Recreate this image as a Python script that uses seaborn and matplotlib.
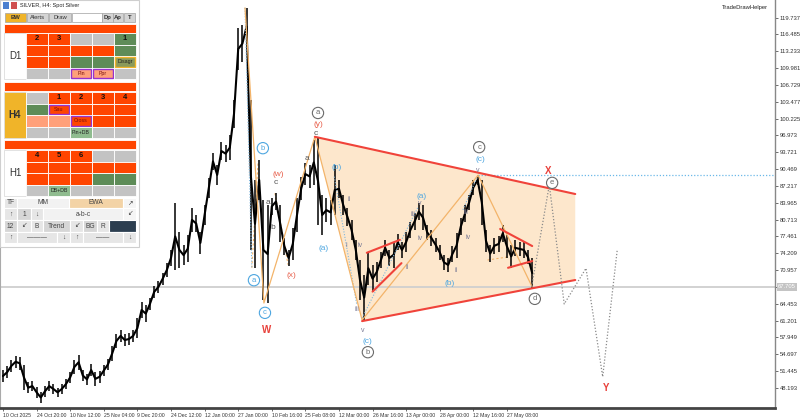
import numpy as np
import pandas as pd
import matplotlib
matplotlib.use("Agg")
import matplotlib.pyplot as plt
import matplotlib.transforms as mtransforms
from matplotlib.patches import Rectangle, Polygon
import seaborn as sns

sns.set_theme(style="white")
plt.rcParams['font.family'] = ['Liberation Sans', 'DejaVu Sans']

# ---------------- data ----------------
bar_step = 8          # H4 bars between samples
label_step = 64       # H4 bars between time labels
high = [51.7, 52.4, 53.6, 54.4, 54.2, 52.6, 49.3, 49.5, 48.4, 47.4,
        48.6, 49.5, 49.0, 48.2, 49.0, 49.9, 51.3, 53.6, 54.6, 51.7,
        50.9, 52.8, 51.3, 51.5, 52.6, 53.8, 56.3, 58.6, 59.4, 58.6,
        58.8, 59.4, 61.7, 64.8, 64.2, 65.6, 67.9, 68.9, 70.4, 72.3,
        74.8, 83.9, 78.3, 75.8, 77.7, 83.0, 81.6, 78.3, 83.5, 88.7,
        93.6, 91.3, 95.7, 95.1, 97.0, 103.8, 117.7, 118.3, 121.6, 103.8,
        88.4, 92.2, 84.5, 83.5, 84.9, 85.8, 83.5, 77.2, 74.8, 79.1,
        84.9, 88.9, 91.6, 91.3, 96.1, 96.7, 85.5, 84.9, 84.5, 91.3,
        88.4, 85.5, 83.0, 80.6, 76.8, 72.9, 70.0, 74.5, 71.9, 72.5,
        74.5, 76.8, 74.8, 76.4, 77.9, 76.4, 78.3, 80.2, 82.0, 83.9,
        83.5, 79.7, 78.7, 77.2, 75.8, 73.9, 73.3, 75.6, 78.1, 81.0,
        83.5, 85.5, 88.4, 89.3, 88.4, 78.7, 75.8, 77.2, 77.5, 79.7,
        77.7, 75.8, 76.8, 76.4, 76.4, 74.8, 73.3]
low = [49.3, 50.1, 51.3, 52.1, 51.7, 47.8, 47.2, 47.6, 46.3, 45.3,
       46.5, 47.6, 47.0, 46.5, 47.0, 48.0, 49.2, 50.9, 51.7, 49.5,
       48.8, 50.5, 48.6, 49.2, 50.5, 51.7, 53.4, 55.9, 57.1, 56.3,
       56.5, 57.1, 57.8, 61.7, 60.9, 63.3, 65.6, 66.5, 68.1, 69.6,
       71.8, 71.0, 71.4, 71.9, 72.5, 78.3, 78.3, 74.1, 79.7, 84.9,
       90.3, 87.4, 92.2, 91.8, 92.2, 98.4, 109.6, 111.1, 114.4, 74.8,
       71.4, 84.5, 65.2, 64.6, 81.6, 82.6, 76.4, 73.9, 71.8, 72.9,
       78.3, 84.5, 87.4, 86.8, 87.4, 79.7, 77.7, 80.2, 79.7, 81.6,
       84.9, 81.6, 79.5, 76.8, 72.9, 65.2, 61.3, 68.1, 66.7, 68.7,
       71.4, 73.7, 71.8, 71.4, 74.8, 73.3, 74.5, 77.2, 78.7, 80.6,
       78.7, 76.8, 75.6, 74.5, 72.9, 71.0, 70.6, 72.5, 73.3, 77.7,
       80.2, 82.6, 85.5, 87.4, 79.7, 74.5, 72.5, 74.1, 74.5, 76.4,
       73.3, 71.4, 73.7, 73.7, 73.3, 72.1, 67.5]
time_labels = ["10 Oct 2025", "24 Oct 20:00", "10 Nov 12:00", "25 Nov 04:00",
               "9 Dec 20:00", "24 Dec 12:00", "12 Jan 00:00", "27 Jan 00:00",
               "10 Feb 16:00", "25 Feb 08:00", "12 Mar 00:00", "26 Mar 16:00",
               "13 Apr 00:00", "28 Apr 00:00", "12 May 16:00", "27 May 08:00"]
price_ticks = [119.737, 116.485, 113.233, 109.981, 106.729, 103.477, 100.225,
               96.973, 93.721, 90.469, 87.217, 83.965, 80.713, 77.461, 74.209,
               70.957, 67.705, 64.453, 61.201, 57.949, 54.697, 51.445, 48.193]
current_price = 67.705
level_x = 89.3

# wave structure (bar index, price)
wave_main = [(461, 121.6), (497, 64.6), (594, 96.7), (684, 61.3), (905, 89.3), (1008, 67.7)]
triangle = [(594, 96.7), (1090, 85.65), (1090, 69.04), (684, 61.1)]
tri_upper = [(594, 96.7), (1090, 85.65)]
tri_lower = [(684, 61.1), (1090, 69.04)]
wedge1 = [[(693, 74.3), (756, 76.8)], [(704, 66.8), (759, 72.3)]]
wedge2 = [[(947, 78.9), (1008, 75.6)], [(962, 71.4), (1008, 72.7)]]
dashed_orange = [[(474, 71.4), (486, 92.0)], [(518, 85.8), (543, 72.0)],
                 [(923, 72.9), (962, 73.5)]]
dotted_blue = [[(461, 121.6), (474, 71.4)], [(631, 89.0), (674, 64.2)],
               [(684, 61.7), (790, 83.0)], [(876, 82.6), (905, 89.3)]]
projection = [(1007, 67.75), (1040.6, 87.39), (1069, 64.41), (1110.5, 71.3),
              (1142.3, 50.37), (1170, 74.84)]

circ_cyan = [("b", 495, 94.5), ("a", 478, 69.0), ("c", 499, 62.7)]
circ_gray = [("a", 600, 101.3), ("c", 907, 94.7), ("e", 1046, 87.8),
             ("d", 1013, 65.4), ("b", 695, 55.1)]
txt_red = [("(y)", 600, 99.0), ("(w)", 524, 89.5), ("(x)", 549, 70.0)]
txt_dark = [("c", 596, 97.4), ("c", 520, 87.8), ("a", 505, 84.1), ("b", 514, 79.1),
            ("a", 579, 92.6)]
txt_cyan = [("(a)", 610, 75.2), ("(b)", 636, 90.7), ("(c)", 695, 57.1),
            ("(a)", 798, 85.1), ("(b)", 851, 68.3), ("(c)", 909, 92.4)]
txt_roman = [("ii", 659, 84.5), ("i", 653, 75.8), ("iv", 680, 75.8), ("iii", 674, 63.4),
             ("v", 686, 59.2), ("ii", 770, 71.4), ("iii", 781, 81.6), ("v", 794, 83.9),
             ("iv", 794, 77.0), ("ii", 863, 70.8), ("iii", 882, 82.0), ("iv", 886, 77.2),
             ("v", 905, 90.1)]
txt_big = [("X", 1038, 90.1), ("W", 503, 59.4), ("Y", 1149, 48.2)]

# ---------------- figure ----------------
fig = plt.figure(figsize=(8, 4.2), dpi=100)
fig.patch.set_facecolor("white")
ax = fig.add_axes([0, 12 / 420, 775 / 800, 408 / 420])
ax.set_facecolor("white")

xs = np.arange(len(high)) * bar_step
hi_arr = np.array(high); lo_arr = np.array(low)
df = pd.DataFrame({"x": xs, "y": (hi_arr + lo_arr) / 2})

ORANGE = "#f3b46a"
RED = "#f0433a"
CYAN = "#4da6e0"
GRAYC = "#6a6a6a"

ax.add_patch(Polygon(triangle, closed=True, fc="#fde7cc", ec="none", zorder=0))
ax.axhline(current_price, color="#cfcfcf", lw=1.3, zorder=1)
ax.hlines(level_x, wave_main[4][0], 1470, colors="#6bb8e8", linestyles=(0, (1, 1.5)), lw=0.9, zorder=1)

ax.vlines(xs, lo_arr, hi_arr, color="black", lw=1.1, zorder=3)
sns.lineplot(data=df, x="x", y="y", sort=False, estimator=None, color="black",
             lw=1.5, ax=ax, zorder=3)

for seg in dashed_orange:
    ax.plot(*zip(*seg), color=ORANGE, lw=0.8, ls=(0, (2, 2)), zorder=2)
for seg in dotted_blue:
    ax.plot(*zip(*seg), color="#7fb6dd", lw=0.8, ls=(0, (1, 1.5)), zorder=4)
ax.plot(*zip(*wave_main), color=ORANGE, lw=0.9, zorder=4)
ax.plot(*zip(*tri_upper), color=RED, lw=1.5, zorder=4)
ax.plot(*zip(*tri_lower), color=RED, lw=1.5, zorder=4)
for w in (wedge1, wedge2):
    for seg in w:
        ax.plot(*zip(*seg), color=RED, lw=1.5, zorder=4)
ax.plot(*zip(*projection), color="#8a8a8a", lw=0.9, ls=(0, (1, 1.5)), zorder=4)

for t, x, y in circ_cyan:
    ax.text(x, y, t, ha="center", va="center", fontsize=5.5, color=CYAN, zorder=6,
            bbox=dict(boxstyle="circle,pad=0.28", fc="white", ec=CYAN, lw=0.8))
for t, x, y in circ_gray:
    ax.text(x, y, t, ha="center", va="center", fontsize=5.5, color=GRAYC, zorder=6,
            bbox=dict(boxstyle="circle,pad=0.28", fc="white", ec=GRAYC, lw=0.8))
for t, x, y in txt_red:
    ax.text(x, y, t, ha="center", va="center", fontsize=6, color="#e8604c", zorder=6)
for t, x, y in txt_dark:
    ax.text(x, y, t, ha="center", va="center", fontsize=6, color="#555555", zorder=6)
for t, x, y in txt_cyan:
    ax.text(x, y, t, ha="center", va="center", fontsize=6, color=CYAN, zorder=6)
for t, x, y in txt_roman:
    ax.text(x, y, t, ha="center", va="center", fontsize=5, color="#7a7a95", zorder=6)
for t, x, y in txt_big:
    ax.text(x, y, t, ha="center", va="center", fontsize=7, color="#e8403a",
            fontweight="bold", zorder=6)

ax.set_xlim(-5.7, 1470.5)
ax.set_ylim(44.32, 123.12)
ax.set_xlabel(""); ax.set_ylabel("")
ax.set_xticks(np.arange(len(time_labels)) * label_step)
ax.set_xticklabels(time_labels, fontsize=3.7, ha="left")
ax.yaxis.tick_right()
ax.set_yticks(price_ticks)
ax.set_yticklabels(["" if v == current_price else f"{v:.3f}" for v in price_ticks], fontsize=4.2)
ax.tick_params(axis="both", which="both", length=2.5, width=0.6, color="#555555",
               pad=1, labelcolor="#333333", direction="out")
ax.tick_params(axis="x", bottom=True)
ax.tick_params(axis="y", right=True, left=False)
ax.spines["top"].set_visible(False)
ax.spines["bottom"].set_color("#444444"); ax.spines["bottom"].set_linewidth(2)
ax.spines["right"].set_color("#888888"); ax.spines["right"].set_linewidth(1)
ax.spines["left"].set_color("#aaaaaa"); ax.spines["left"].set_linewidth(0.8)

tr = mtransforms.blended_transform_factory(ax.transAxes, ax.transData)
ax.text(1.004, current_price, f"{current_price:.3f}", transform=tr, ha="left", va="center",
        fontsize=4.2, color="white", zorder=7,
        bbox=dict(fc="#c4c4c4", ec="none", boxstyle="square,pad=0.25"))

fig.text(722 / 800, 1 - 8 / 420, "TradeDrawHelper", fontsize=4.2, color="#222222",
         ha="left", va="center")

# ---------------- info panel (top-left widget) ----------------
pan = fig.add_axes([0, 0, 1, 1], zorder=10)
pan.set_xlim(0, 800); pan.set_ylim(420, 0); pan.axis("off")
pan.patch.set_alpha(0)

COL = {"OR": "#ff4500", "GN": "#5e8c58", "GR": "#c3c3c3", "SAL": "#ffa07a",
       "LG": "#8fbc8f", "DIS": "#8a9a5a", "PIN": "#ffa07a", "SAU": "#ff4500"}

def cell(x0, y0, x1, y1, fc, text="", tc="black", fs=5, fw="normal", ec="white", lw=0.6):
    pan.add_patch(Rectangle((x0, y0), x1 - x0, y1 - y0, fc=fc, ec=ec, lw=lw))
    if text:
        pan.text((x0 + x1) / 2, (y0 + y1) / 2, text, ha="center", va="center",
                 fontsize=fs, color=tc, fontweight=fw)

pan.add_patch(Rectangle((0, 0), 139, 247, fc="white", ec="#cfcfcf", lw=0.8))
pan.add_patch(Rectangle((3, 2), 6, 7, fc="#4a7fd0", ec="none"))
pan.add_patch(Rectangle((11, 2), 6, 7, fc="#d05050", ec="none"))
pan.text(20, 6, "SILVER, H4: Spot Silver", fontsize=4.0, va="center", ha="left", color="#222")

buttons = [(5, 26, "BW", "#f0b429"), (27, 48, "Alerts", "#d4d4d4"), (49, 71, "Draw", "#d4d4d4"),
           (72, 102, "", "#ffffff"), (102, 113, "Dp", "#d4d4d4"), (113, 123, "Ap", "#d4d4d4"),
           (124, 135, "T", "#d4d4d4")]
for x0, x1, t, c in buttons:
    cell(x0, 13, x1, 22, c, t, tc="#333", fs=4.2, fw="bold" if t in ("BW", "Dp", "Ap", "T") else "normal",
         ec="#a0a0a0", lw=0.5)

D1_cells = [[("2", "OR"), ("3", "OR"), ("", "GR"), ("", "GR"), ("1", "GN")],
            [("", "OR"), ("", "OR"), ("", "OR"), ("", "OR"), ("", "GN")],
            [("", "OR"), ("", "OR"), ("", "GN"), ("", "GN"), ("Disagr", "DIS")],
            [("", "GR"), ("", "GR"), ("Pin", "PIN"), ("Ppr", "PIN"), ("", "GR")]]
H4_cells = [[("", "GR"), ("1", "OR"), ("2", "OR"), ("3", "OR"), ("4", "OR")],
            [("", "GN"), ("Sau", "SAU"), ("", "OR"), ("", "OR"), ("", "OR")],
            [("", "SAL"), ("", "SAL"), ("Cross", "SAU"), ("", "OR"), ("", "OR")],
            [("", "GR"), ("", "GR"), ("Pin+DB", "LG"), ("", "GR"), ("", "GR")]]
H1_cells = [[("4", "OR"), ("5", "OR"), ("6", "OR"), ("", "GR"), ("", "GR")],
            [("", "OR"), ("", "OR"), ("", "OR"), ("", "OR"), ("", "OR")],
            [("", "OR"), ("", "OR"), ("", "OR"), ("", "GN"), ("", "GN")],
            [("", "GR"), ("DB+DB", "LG"), ("", "GR"), ("", "GR"), ("", "GR")]]
cols = [26, 48, 70, 92, 114, 136]
sections = [("D1", D1_cells, 24, 33, "white", "normal"),
            ("H4", H4_cells, 82, 92, "#f0b429", "bold"),
            ("H1", H1_cells, 140, 150, "white", "normal")]
for name, cells, bar_y, top, lab_c, lab_w in sections:
    cell(4, bar_y, 136, bar_y + 9, "#ff4500", ec="#ffffff", lw=0.6)
    rows_y = np.linspace(top, top + 46, 5)
    cell(4, top, 26, top + 46, lab_c, name, tc="#333", fs=7, fw=lab_w, ec="#dddddd")
    for r, row in enumerate(cells):
        for c, (t, k) in enumerate(row):
            x0, x1 = cols[c], cols[c + 1]
            y0, y1 = rows_y[r], rows_y[r + 1]
            if k in ("PIN", "SAU"):
                cell(x0, y0, x1, y1, "white")
                cell(x0 + 1, y0 + 1, x1 - 1, y1 - 1, COL[k], t, tc="#7a1010", fs=3.8,
                     ec="#9932cc", lw=1.0)
            elif k == "DIS":
                cell(x0, y0, x1, y1, "white")
                cell(x0 + 1, y0 + 1, x1 - 1, y1 - 1, COL[k], t, tc="#222", fs=3.8,
                     ec="#f0b429", lw=1.0)
            else:
                cell(x0, y0, x1, y1, COL[k], t, tc="#111" if k != "LG" else "#222",
                     fs=5.5 if t.isdigit() else 3.8, fw="bold" if t.isdigit() else "normal")

ctrl_rows = [(198, 208, [(4, 17, "TF", "#e6e6e6"), (17, 69, "MM", "#f2f2f2"),
                         (69, 123, "EWA", "#f3d3a6"), (123, 136, "↗", "#f5f5f5")]),
             (208, 220, [(4, 17, "↑", "#e6e6e6"), (17, 31, "1", "#d6d6d6"), (31, 43, "↓", "#e6e6e6"),
                         (43, 123, "a-b-c", "#f2f2f2"), (123, 136, "↙", "#f5f5f5")]),
             (220, 232, [(4, 17, "12", "#d6d6d6"), (17, 31, "↙", "#e6e6e6"), (31, 43, "B", "#e6e6e6"),
                         (43, 70, "Trend", "#d6d6d6"), (70, 83, "↙", "#e6e6e6"), (83, 97, "BG", "#d6d6d6"),
                         (97, 109, "R", "#e6e6e6"), (109, 136, "", "#2c3e50")]),
             (232, 243, [(4, 17, "↑", "#e6e6e6"), (17, 57, "———", "#e6e6e6"), (57, 70, "↓", "#e6e6e6"),
                         (70, 83, "↑", "#e6e6e6"), (83, 123, "——", "#e6e6e6"), (123, 136, "↓", "#e6e6e6")])]
for y0, y1, items in ctrl_rows:
    for x0, x1, t, c in items:
        cell(x0, y0, x1, y1, c, t, tc="#444", fs=4.8, ec="white", lw=0.8)

fig.savefig("out.png", dpi=100, facecolor="white")
